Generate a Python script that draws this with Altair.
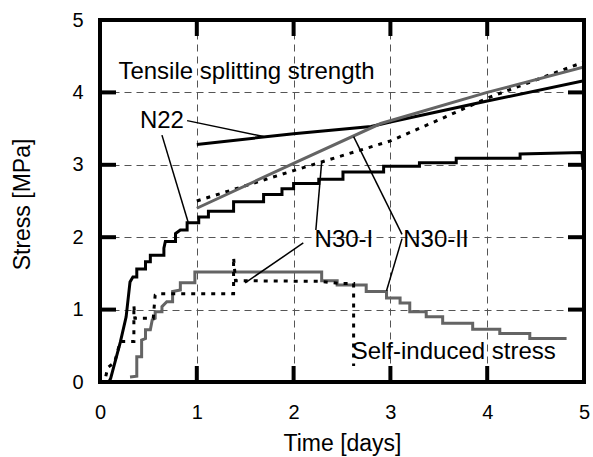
import altair as alt
import pandas as pd

# ---- data ----
# Tensile splitting strength
n22_str_x = [1, 2, 2.8, 3, 4, 5]
n22_str_y = [3.28, 3.43, 3.53, 3.59, 3.88, 4.16]
n30i_str_x = [1, 2, 3, 3.5, 4, 5]
n30i_str_y = [2.50, 2.92, 3.33, 3.62, 3.92, 4.42]
n30ii_str_x = [1, 2, 2.9, 4, 5]
n30ii_str_y = [2.40, 3.02, 3.57, 4.00, 4.35]

# Self-induced stress (step curves, corner points)
n22_x = [0.09, 0.11, 0.15, 0.21, 0.27, 0.31, 0.34, 0.38, 0.38, 0.47, 0.47, 0.52, 0.52,
         0.66, 0.66, 0.675, 0.78, 0.78, 0.83, 0.90, 0.90, 1.02, 1.02, 1.12, 1.12, 1.38,
         1.38, 1.69, 1.69, 1.88, 1.88, 2.00, 2.00, 2.26, 2.26, 2.51, 2.51, 2.93, 2.93,
         3.30, 3.30, 3.68, 3.68, 4.34, 4.34, 4.98, 4.99]
n22_y = [0.00, 0.05, 0.25, 0.55, 0.90, 1.38, 1.45, 1.45, 1.56, 1.56, 1.66, 1.66, 1.75,
         1.75, 1.85, 1.94, 1.94, 2.05, 2.10, 2.10, 2.20, 2.20, 2.28, 2.28, 2.36, 2.36,
         2.49, 2.49, 2.59, 2.59, 2.67, 2.67, 2.74, 2.74, 2.80, 2.80, 2.90, 2.90, 2.98,
         2.98, 3.03, 3.03, 3.09, 3.09, 3.15, 3.17, 2.93]

n30i_x = [0.06, 0.08, 0.15, 0.21, 0.31, 0.35, 0.35, 0.36, 0.55, 0.57, 0.60, 1.38, 1.38,
          1.40, 2.27, 2.48, 2.62, 2.62]
n30i_y = [0.08, 0.20, 0.27, 0.56, 0.56, 0.56, 1.06, 0.88, 0.88, 1.20, 1.22, 1.22, 1.72,
          1.40, 1.39, 1.36, 1.36, 0.22]

n30ii_x = [0.31, 0.38, 0.38, 0.43, 0.43, 0.47, 0.47, 0.52, 0.54, 0.57, 0.57, 0.64, 0.64,
           0.69, 0.75, 0.75, 0.83, 0.83, 0.98, 0.98, 2.29, 2.29, 2.45, 2.45, 2.75, 2.75,
           2.96, 2.96, 3.10, 3.10, 3.20, 3.20, 3.37, 3.37, 3.54, 3.54, 3.85, 3.85, 4.13,
           4.13, 4.44, 4.44, 4.82]
n30ii_y = [0.07, 0.08, 0.35, 0.35, 0.58, 0.60, 0.72, 0.72, 0.86, 0.88, 0.97, 0.97, 1.04,
           1.11, 1.11, 1.25, 1.27, 1.37, 1.37, 1.52, 1.52, 1.40, 1.40, 1.34, 1.34, 1.25,
           1.25, 1.16, 1.16, 1.09, 1.09, 0.97, 0.97, 0.90, 0.90, 0.81, 0.81, 0.73, 0.73,
           0.67, 0.67, 0.60, 0.60]

# Leader lines
lead_x1 = [0.90, 0.64, 2.23, 2.10, 3.12, 3.12]
lead_y1 = [3.61, 3.41, 2.10, 1.92, 2.04, 1.98]
lead_x2 = [1.69, 0.91, 2.29, 1.50, 2.62, 2.96]
lead_y2 = [3.39, 2.21, 3.04, 1.37, 3.39, 1.26]

# Annotation texts
left_labels = ["Tensile splitting strength", "Self-induced stress"]
left_lx = [0.19, 2.60]
left_ly = [4.28, 0.41]
center_labels = ["N22", "N30-I", "N30-II"]
center_lx = [0.64, 2.52, 3.47]
center_ly = [3.60, 1.96, 1.96]

tick_vals = [0, 1, 2, 3, 4, 5]
inner_ticks = [1, 2, 3, 4]

FONT = "Liberation Sans"
GRAY = "#646464"

xs = alt.Scale(domain=[0, 5], nice=False, zero=False)
ys = alt.Scale(domain=[0, 5], nice=False, zero=False)

x_axis = alt.Axis(values=tick_vals, title="Time [days]", grid=True, ticks=False, domain=False,
                  labelFontSize=20, labelFont=FONT, labelColor="black", labelPadding=30,
                  labelBaseline="middle", labelFlush=False,
                  titleFontSize=23, titleFont=FONT, titleFontWeight="normal", titleColor="black",
                  titleBaseline="middle", titleY=61,
                  gridDash=[7, 5], gridColor="#555555", gridWidth=1, gridOpacity=1)
y_axis = alt.Axis(values=tick_vals, title="Stress [MPa]", grid=True, ticks=False, domain=False,
                  labelFontSize=20, labelFont=FONT, labelColor="black", labelPadding=17,
                  labelBaseline="middle", labelAlign="right", labelFlush=False,
                  titleFontSize=23, titleFont=FONT, titleFontWeight="normal", titleColor="black",
                  titleAngle=270, titleBaseline="middle", titleAlign="center",
                  titleX=-78, titleY=184,
                  gridDash=[7, 5], gridColor="#555555", gridWidth=1, gridOpacity=1)

X = lambda f="x": alt.X(f"{f}:Q", scale=xs, axis=x_axis)
Y = lambda f="y": alt.Y(f"{f}:Q", scale=ys, axis=y_axis)


def line_df(xv, yv):
    return pd.DataFrame({"x": xv, "y": yv, "i": list(range(len(xv)))})


def curve(xv, yv, color, dash=None):
    kw = dict(color=color, strokeWidth=3, clip=True)
    if dash:
        kw["strokeDash"] = dash
    return alt.Chart(line_df(xv, yv)).mark_line(**kw).encode(x=X(), y=Y(), order="i:Q")


layers = []
layers.append(curve(n22_str_x, n22_str_y, "black"))
layers.append(curve(n30i_str_x, n30i_str_y, "black", dash=[4, 6]))
layers.append(curve(n30ii_str_x, n30ii_str_y, GRAY))
layers.append(curve(n30ii_x, n30ii_y, GRAY))
layers.append(curve(n30i_x, n30i_y, "black", dash=[4, 6]))
layers.append(curve(n22_x, n22_y, "black"))

lead_df = pd.DataFrame({"x": lead_x1, "y": lead_y1, "x2": lead_x2, "y2": lead_y2})
layers.append(alt.Chart(lead_df).mark_rule(color="black", strokeWidth=1.5).encode(
    x=X(), y=Y(), x2="x2:Q", y2="y2:Q"))

left_df = pd.DataFrame({"x": left_lx, "y": left_ly, "t": left_labels})
layers.append(alt.Chart(left_df).mark_text(align="left", baseline="middle", fontSize=24,
                                           font=FONT, color="black").encode(
    x=X(), y=Y(), text="t:N"))
center_df = pd.DataFrame({"x": center_lx, "y": center_ly, "t": center_labels})
layers.append(alt.Chart(center_df).mark_text(align="center", baseline="middle", fontSize=24,
                                             font=FONT, color="black").encode(
    x=X(), y=Y(), text="t:N"))

# inward major ticks
xt_df = pd.DataFrame({"x": inner_ticks})
yt_df = pd.DataFrame({"y": inner_ticks})
for y0, y1 in [(0, 16), (346, 362)]:
    layers.append(alt.Chart(xt_df).mark_rule(color="black", strokeWidth=4).encode(
        x=X(), y=alt.value(y0), y2=alt.value(y1)))
for x0, x1 in [(0, 16), (468, 484)]:
    layers.append(alt.Chart(yt_df).mark_rule(color="black", strokeWidth=4).encode(
        y=Y(), x=alt.value(x0), x2=alt.value(x1)))

# frame
one = pd.DataFrame({"a": [0]})
frame_specs = [
    dict(x=alt.value(-2), x2=alt.value(486), y=alt.value(0)),
    dict(x=alt.value(-2), x2=alt.value(486), y=alt.value(362)),
    dict(y=alt.value(-2), y2=alt.value(364), x=alt.value(0)),
    dict(y=alt.value(-2), y2=alt.value(364), x=alt.value(484)),
]
for enc in frame_specs:
    layers.append(alt.Chart(one).mark_rule(color="black", strokeWidth=4).encode(**enc))

chart = alt.layer(*layers).properties(
    width=484, height=362,
    padding={"left": 100, "top": 20, "right": 9, "bottom": 75},
    autosize=alt.AutoSizeParams(type="none"),
    background="white",
).configure_view(stroke=None)

chart.save("out.html", embed_options={"renderer": "svg", "actions": False})
